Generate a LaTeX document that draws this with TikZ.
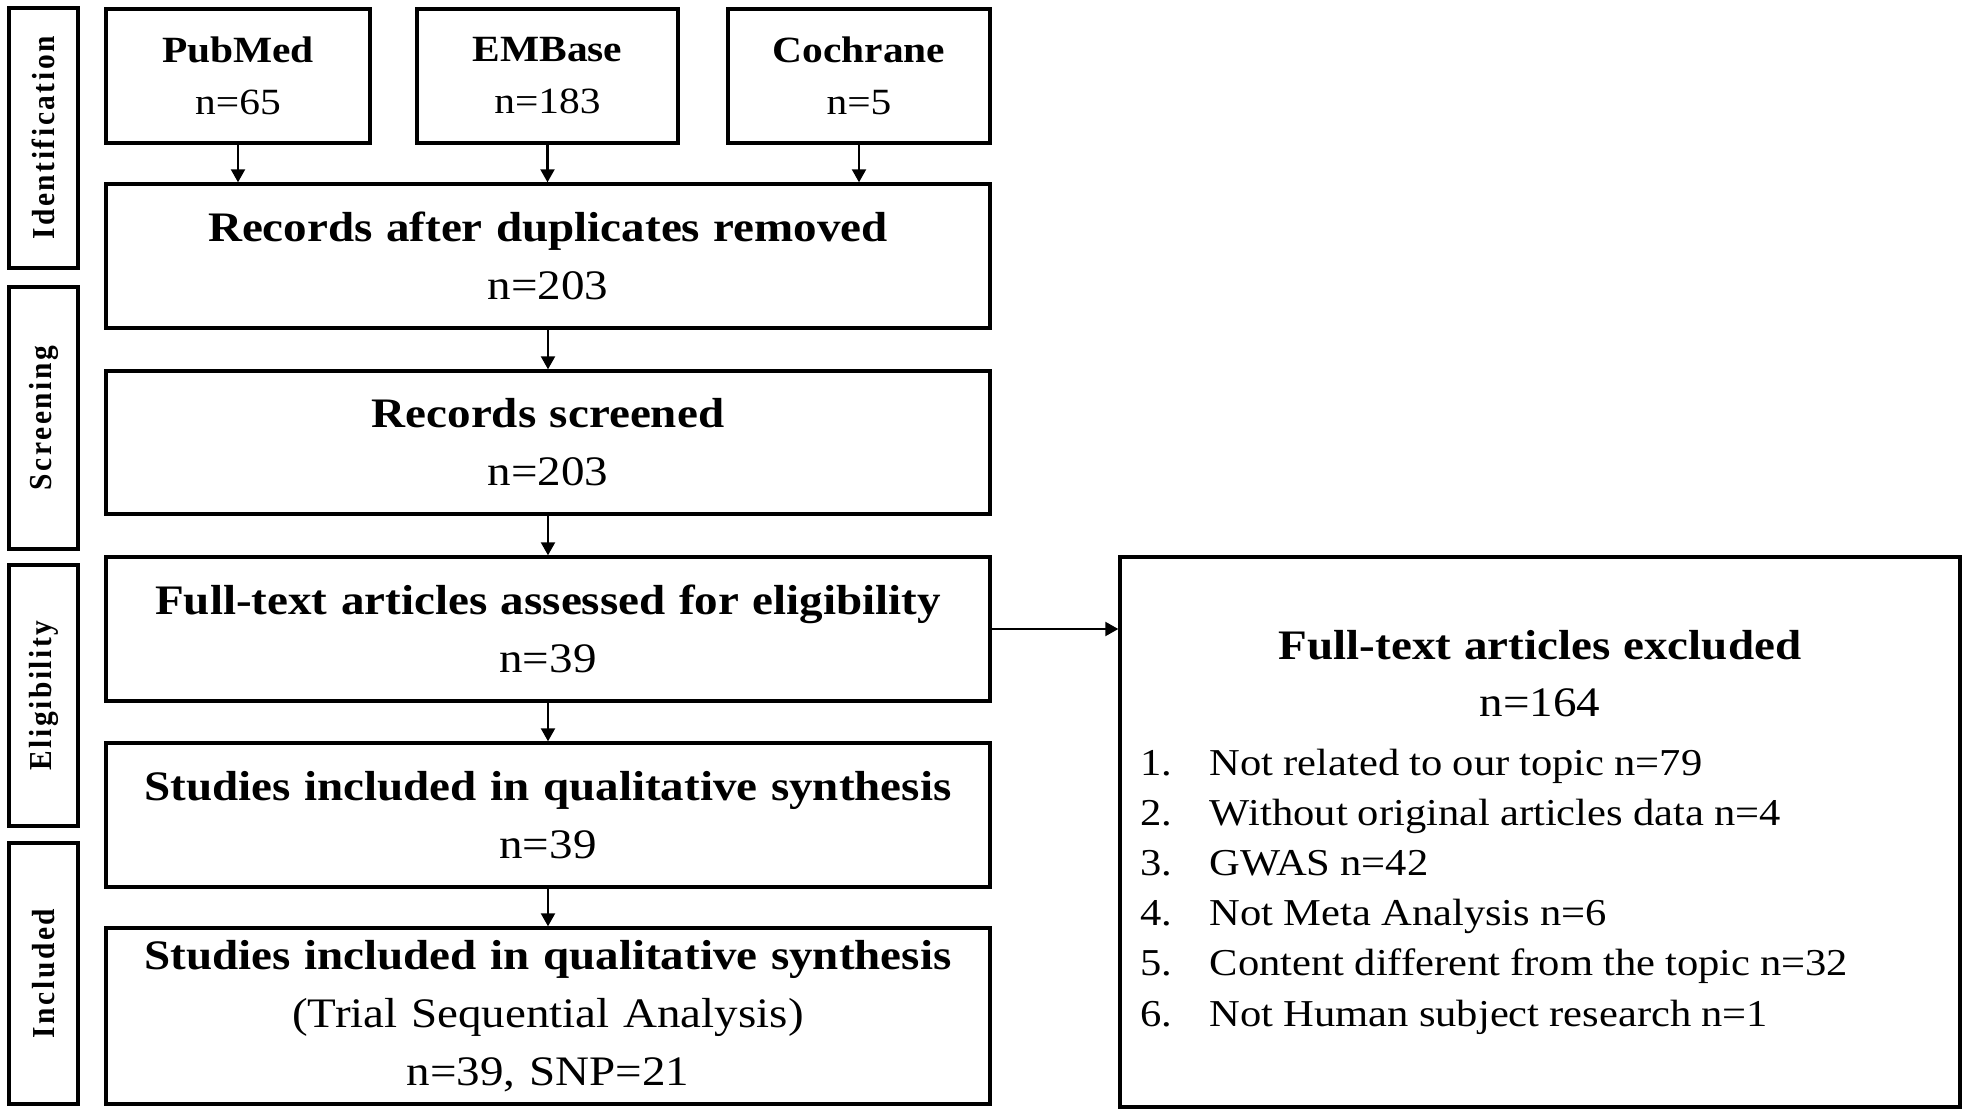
\documentclass[tikz,border=0pt]{standalone}
\usepackage{fontspec}
\usepackage{graphicx}
\setmainfont[FakeStretch=1.12,WordSpace=1.15]{Liberation Serif}
\newfontfamily\sidefont[FakeStretch=0.92,LetterSpace=8]{Liberation Serif}
\usetikzlibrary{arrows.meta}
\begin{document}
\begin{tikzpicture}[x=0.5pt,y=-0.5pt,
  box/.style={draw, line width=1.7pt, inner sep=0pt, align=center,
    font=\fontsize{21}{29}\selectfont, minimum width=442pt},
  srcbox/.style={draw, line width=1.7pt, inner sep=0pt, align=center,
    font=\fontsize{18.5}{26}\selectfont, minimum height=67pt},
  sidebox/.style={draw, line width=1.8pt, inner sep=0pt,
    minimum width=34.5pt, font=\sidefont\bfseries\fontsize{16}{16}\selectfont},
  arr/.style={line width=1.1pt, -{Triangle[length=6.5pt,width=7pt]}}
]
\useasboundingbox (0,0) rectangle (1965,1117);

% phase labels
\node[sidebox, minimum height=130pt]   (sid) at (43.5,138)   {\rotatebox{90}{Identification}};
\node[sidebox, minimum height=131pt]   (sscr) at (43.5,418)  {\rotatebox{90}{Screening}};
\node[sidebox, minimum height=130.5pt] (selg) at (43.5,695.5) {\rotatebox{90}{Eligibility}};
\node[sidebox, minimum height=130.5pt] (sinc) at (43.5,973.5) {\rotatebox{90}{Included}};

% sources
\node[srcbox, minimum width=132pt]   (pub) at (238,76)   {\textbf{PubMed}\\n=65};
\node[srcbox, minimum width=130.5pt] (emb) at (547.5,76) {\textbf{EMBase}\\n=183};
\node[srcbox, minimum width=131pt]   (coc) at (859,76)   {\textbf{Cochrane}\\n=5};

% main flow
\node[box, minimum height=72pt]   (rec) at (548,256)   {\textbf{Records after duplicates removed}\\n=203};
\node[box, minimum height=71.5pt] (scr) at (548,442.5) {\textbf{Records screened}\\n=203};
\node[box, minimum height=72pt]   (ass) at (548,629)   {\textbf{Full-text articles assessed for eligibility}\\n=39};
\node[box, minimum height=72pt]   (qual) at (548,815)  {\textbf{Studies included in qualitative synthesis}\\n=39};
\node[box, minimum height=88pt]   (tsa) at (548,1016)  {\textbf{Studies included in qualitative synthesis}\\(Trial Sequential Analysis)\\n=39, SNP=21};

% excluded
\node[draw, line width=1.7pt, inner sep=0pt, text width=420pt, minimum height=275pt] (exc) at (1540,832) {%
  {\centering\fontsize{21}{28.5}\selectfont\spaceskip=6.5pt plus 1pt\textbf{Full-text articles excluded}\\n=164\par}%
  \fontsize{19}{25.1}\selectfont\raggedright\spaceskip=5pt plus 1pt minus 1pt\vspace{4.4pt}%
  \hspace*{10pt}\makebox[35pt][l]{1.}Not related to our topic n=79\\
  \hspace*{10pt}\makebox[35pt][l]{2.}Without original articles data n=4\\
  \hspace*{10pt}\makebox[35pt][l]{3.}GWAS n=42\\
  \hspace*{10pt}\makebox[35pt][l]{4.}Not Meta Analysis n=6\\
  \hspace*{10pt}\makebox[35pt][l]{5.}Content different from the topic n=32\\
  \hspace*{10pt}\makebox[35pt][l]{6.}Not Human subject research n=1\par};

% connectors
\draw[arr] (pub.south) -- (pub.south |- rec.north);
\draw[arr] (emb.south) -- (emb.south |- rec.north);
\draw[arr] (coc.south) -- (coc.south |- rec.north);
\draw[arr] (rec) -- (scr);
\draw[arr] (scr) -- (ass);
\draw[arr] (ass) -- (qual);
\draw[arr] (qual) -- (tsa);
\draw[arr] (ass.east) -- (exc.west |- ass.east);
\end{tikzpicture}
\end{document}
